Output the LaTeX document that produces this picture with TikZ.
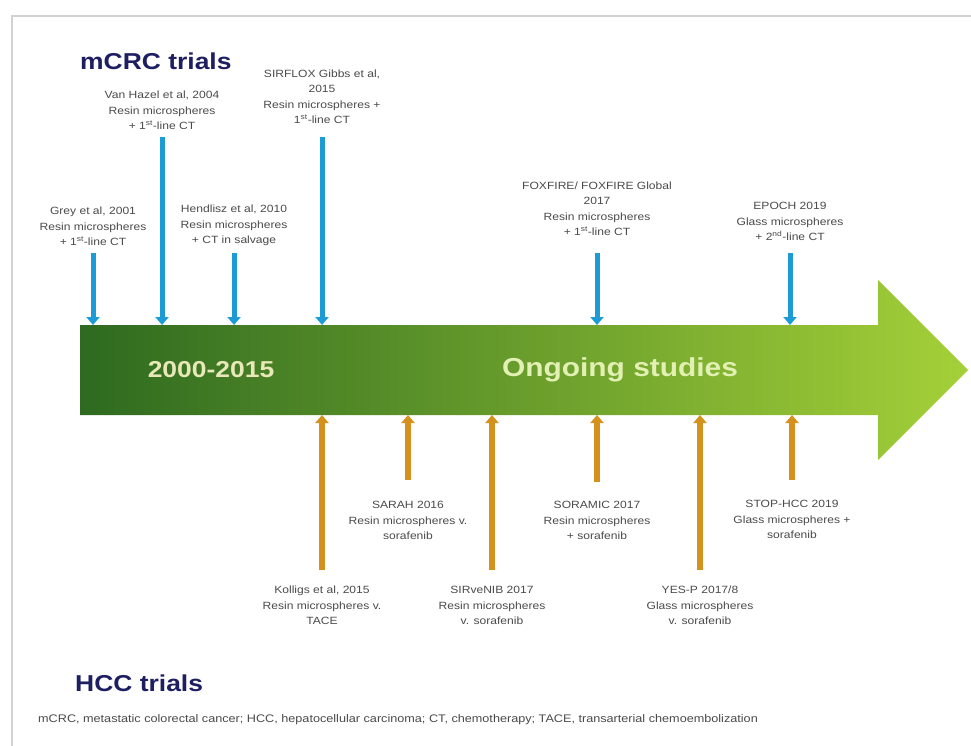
\documentclass[tikz,border=0pt]{standalone}
\usepackage{fontspec}
\setmainfont{Liberation Sans}[FakeStretch=1.15]
\usetikzlibrary{positioning,arrows.meta}
\definecolor{titlenavy}{HTML}{1E1E62}
\definecolor{trialgray}{HTML}{4A4A4A}
\definecolor{framegray}{HTML}{D2D2D2}
\definecolor{mcrcblue}{HTML}{1C9BD7}
\definecolor{hccorange}{HTML}{D4921C}
\definecolor{tlgreenL}{HTML}{2E6A20}
\definecolor{tlgreenM}{HTML}{62AE40}
\definecolor{tlgreenR}{HTML}{A4D038}
\definecolor{eraOld}{HTML}{E8E8B8}
\definecolor{eraNew}{HTML}{E2F0B4}
\newcommand*{\trialfont}{\fontsize{10.5}{15.5}\selectfont}

\begin{document}
\begin{tikzpicture}[x=1pt, y=-1pt,
  trial/.style   = {font=\trialfont, text=trialgray, align=center, inner sep=1pt},
  heading/.style = {font=\fontsize{23}{27}\selectfont\bfseries, text=titlenavy,
                    inner sep=0pt, anchor=base west},
  era/.style     = {font=\fontsize{23}{27}\selectfont\bfseries, inner sep=0pt},
  mcrc arrow/.style = {draw=mcrcblue, line width=5pt, -{Triangle[width=13pt,length=8pt]}},
  hcc arrow/.style  = {draw=hccorange, line width=6pt, -{Triangle[width=13pt,length=8pt]}}]

  \useasboundingbox (0,0) rectangle (971,746);
  \draw[framegray, line width=1.5pt] (12,746) -- (12,16) -- (971,16);

  % headings
  \node[heading] (mcrc) at (80,70) {mCRC trials};
  \node[heading] (hcc)  at (75,691) {HCC trials};

  % timeline
  \shade[left color=tlgreenL, middle color=tlgreenM, right color=tlgreenR]
    (80,325) -- (878,325) -- (878,280) -- (968,370) -- (878,460)
    -- (878,415) -- (80,415) -- cycle;
  \coordinate (bodytop) at (80,325);
  \coordinate (bodybot) at (80,415);
  \node[era, text=eraOld] (past)    at (211,370) {2000-2015};
  \node[era, text=eraNew, font=\fontsize{26}{30}\selectfont\bfseries] (ongoing) at (620,370) {Ongoing studies};

  % mCRC trials
  \node[trial, anchor=south] (grey)     at (93,247)  {Grey et al, 2001\\Resin microspheres\\+ 1\textsuperscript{st}-line CT};
  \node[trial, anchor=south] (vanhazel) at (162,131) {Van Hazel et al, 2004\\Resin microspheres\\+ 1\textsuperscript{st}-line CT};
  \node[trial, anchor=south] (hendlisz) at (234,247) {Hendlisz et al, 2010\\Resin microspheres\\+ CT in salvage};
  \node[trial, anchor=south] (sirflox)  at (322,125) {SIRFLOX Gibbs et al,\\2015\\Resin microspheres +\\1\textsuperscript{st}-line CT};
  \node[trial, anchor=south] (foxfire)  at (597,237) {FOXFIRE/ FOXFIRE Global\\2017\\Resin microspheres\\+ 1\textsuperscript{st}-line CT};
  \node[trial, anchor=south] (epoch)    at (790,242) {EPOCH 2019\\Glass microspheres\\+ 2\textsuperscript{nd}-line CT};

  \foreach \t/\s in {grey/6, vanhazel/6, hendlisz/6, sirflox/12, foxfire/16, epoch/11}
    \draw[mcrc arrow, shorten <=\s pt] (\t) -- (\t |- bodytop);

  % HCC trials
  \node[trial, anchor=north] (sarah)    at (408,500) {SARAH 2016\\Resin microspheres v.\\sorafenib};
  \node[trial, anchor=north] (soramic)  at (597,500) {SORAMIC 2017\\Resin microspheres\\+ sorafenib};
  \node[trial, anchor=north] (stophcc)  at (792,499) {STOP-HCC 2019\\Glass microspheres +\\sorafenib};
  \node[trial, anchor=north] (kolligs)  at (322,585) {Kolligs et al, 2015\\Resin microspheres v.\\TACE};
  \node[trial, anchor=north] (sirvenib) at (492,585) {SIRveNIB 2017\\Resin microspheres\\v. sorafenib};
  \node[trial, anchor=north] (yesp)     at (700,585) {YES-P 2017/8\\Glass microspheres\\v. sorafenib};

  \foreach \t/\s in {sarah/20, soramic/18, stophcc/19, kolligs/15, sirvenib/15, yesp/15}
    \draw[hcc arrow, shorten <=\s pt] (\t) -- (\t |- bodybot);

  % abbreviations
  \node[font=\fontsize{11}{13}\selectfont, text=trialgray, inner sep=0pt, anchor=base west]
    (abbrev) at (38,722) {mCRC, metastatic colorectal cancer; HCC, hepatocellular carcinoma; CT, chemotherapy; TACE, transarterial chemoembolization};
\end{tikzpicture}
\end{document}
